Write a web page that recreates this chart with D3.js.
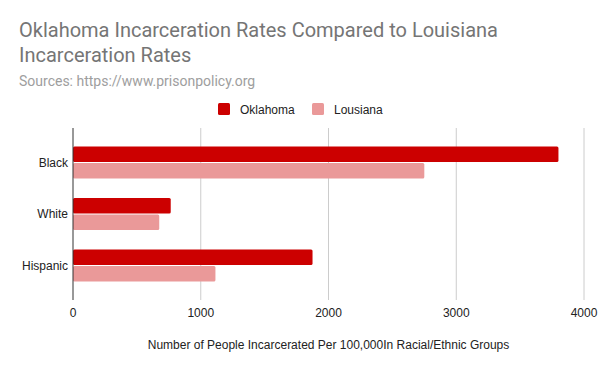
<!doctype html>
<html>
<head>
<style>
  body { margin: 0; background: #fff; }
  text { font-family: "Liberation Sans", Arial, sans-serif; }
  .ttl { font-family: Roboto, Arial, sans-serif; }
</style>
<script src="https://d3js.org/d3.v7.min.js"></script>
</head>
<body>
<svg width="600" height="371"></svg>
<script>
var groups = ["Black", "White", "Hispanic"];
var seriesNames = ["Oklahoma", "Lousiana"];
var oklahoma = [3800, 765, 1875];
var louisiana = [2750, 675, 1115];
var xTicks = [0, 1000, 2000, 3000, 4000];
var colors = ["#cc0000", "#ea9999"];

var svg = d3.select("svg");
var plotL = 73, plotR = 584, plotT = 128, plotB = 300;

svg.append("rect").attr("width", 600).attr("height", 371).attr("fill", "#fff");

// title + subtitle
var title = svg.append("text").attr("class", "ttl").attr("fill", "#757575").attr("font-size", 20);
title.append("tspan").attr("x", 19).attr("y", 37).text("Oklahoma Incarceration Rates Compared to Louisiana");
title.append("tspan").attr("x", 19).attr("y", 62).text("Incarceration Rates");
svg.append("text").attr("class", "ttl").attr("x", 19).attr("y", 86).attr("fill", "#9e9e9e").attr("font-size", 14)
   .text("Sources: https://www.prisonpolicy.org");

var x = d3.scaleLinear().domain([0, 4000]).range([plotL, plotR]);
var y0 = d3.scaleBand().domain(groups).range([plotT, plotB]).paddingInner(0.38).paddingOuter(0.36);
var y1 = d3.scaleBand().domain(seriesNames).range([0, y0.bandwidth()]).paddingInner(0.06);

// grid
svg.append("g").selectAll("line").data(xTicks.slice(1)).enter().append("line")
   .attr("x1", function(d) { return x(d); }).attr("x2", function(d) { return x(d); })
   .attr("y1", plotT).attr("y2", plotB)
   .attr("stroke", "#cccccc").attr("stroke-width", 1);

// bars
var rows = groups.map(function(g, i) { return { g: g, vals: [oklahoma[i], louisiana[i]] }; });
var gg = svg.append("g").selectAll("g").data(rows).enter().append("g")
   .attr("transform", function(d) { return "translate(0," + y0(d.g) + ")"; });
gg.selectAll("rect").data(function(d) { return d.vals.map(function(v, j) { return { s: seriesNames[j], v: v, j: j }; }); })
  .enter().append("rect")
  .attr("x", x(0))
  .attr("y", function(d) { return y1(d.s); })
  .attr("width", function(d) { return x(d.v) - x(0); })
  .attr("height", y1.bandwidth())
  .attr("rx", 1.5)
  .attr("fill", function(d) { return colors[d.j]; });

// zero line
svg.append("line").attr("x1", x(0)).attr("x2", x(0)).attr("y1", plotT).attr("y2", plotB)
   .attr("stroke", "#333").attr("stroke-width", 1);

// y labels
svg.append("g").selectAll("text").data(groups).enter().append("text")
   .attr("x", 68).attr("y", function(d) { return y0(d) + y0.bandwidth() / 2; })
   .attr("dy", "0.35em").attr("text-anchor", "end")
   .attr("font-size", 12).attr("fill", "#222")
   .text(function(d) { return d; });

// x tick labels
svg.append("g").selectAll("text").data(xTicks).enter().append("text")
   .attr("x", function(d) { return x(d); }).attr("y", 317)
   .attr("text-anchor", "middle").attr("font-size", 12).attr("fill", "#222")
   .text(function(d) { return d; });

// x axis title
svg.append("text").attr("x", (plotL + plotR) / 2).attr("y", 349)
   .attr("text-anchor", "middle").attr("font-size", 12).attr("fill", "#222")
   .text("Number of People Incarcerated Per 100,000In Racial/Ethnic Groups");

// legend
var legX = [218, 312];
var leg = svg.append("g").selectAll("g").data(seriesNames).enter().append("g")
   .attr("transform", function(d, i) { return "translate(" + legX[i] + ",103)"; });
leg.append("rect").attr("width", 12).attr("height", 12).attr("rx", 1.5)
   .attr("fill", function(d, i) { return colors[i]; });
leg.append("text").attr("x", 22).attr("y", 10.5).attr("font-size", 12).attr("fill", "#222")
   .text(function(d) { return d; });
</script>
</body>
</html>
